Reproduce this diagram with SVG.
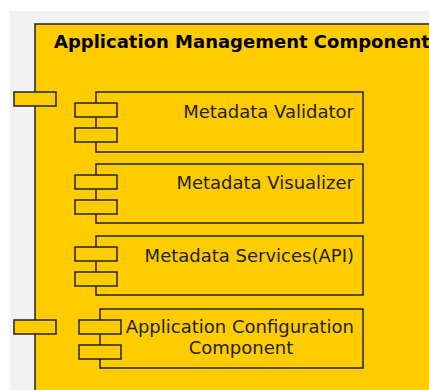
<svg xmlns="http://www.w3.org/2000/svg" width="429" height="390" viewBox="0 0 429 390">
  <style>
    .box { fill: #FFCC00; stroke: #222; stroke-width: 1.5; }
    .title { font-family: "DejaVu Sans", sans-serif; font-size: 18px; font-weight: bold; fill: #000; }
    .label { font-family: "DejaVu Sans", sans-serif; font-size: 18px; fill: #222; }
  </style>
  <rect x="0" y="0" width="429" height="390" fill="#fff"/>
  <rect x="10" y="11" width="419" height="379" fill="#f2f2f2"/>

  <!-- outer component -->
  <g id="app-management">
    <rect class="box" x="35" y="24" width="410" height="380"/>
    <text class="title" x="54" y="48">Application Management Component</text>
    <rect class="box" x="14" y="92" width="42" height="14"/>
    <rect class="box" x="14" y="320" width="42" height="14"/>
  </g>

  <g id="metadata-validator">
    <rect class="box" x="96" y="92" width="267" height="60"/>
    <rect class="box" x="75" y="103" width="42" height="14"/>
    <rect class="box" x="75" y="128" width="42" height="14"/>
    <text class="label" x="354" y="118" text-anchor="end">Metadata Validator</text>
  </g>

  <g id="metadata-visualizer">
    <rect class="box" x="96" y="164" width="267" height="59"/>
    <rect class="box" x="75" y="175" width="42" height="14"/>
    <rect class="box" x="75" y="200" width="42" height="14"/>
    <text class="label" x="354" y="189" text-anchor="end">Metadata Visualizer</text>
  </g>

  <g id="metadata-services">
    <rect class="box" x="96" y="236" width="267" height="59"/>
    <rect class="box" x="75" y="247" width="42" height="14"/>
    <rect class="box" x="75" y="272" width="42" height="14"/>
    <text class="label" x="354" y="262" text-anchor="end">Metadata Services(API)</text>
  </g>

  <g id="app-configuration">
    <rect class="box" x="100" y="309" width="263" height="59"/>
    <rect class="box" x="79" y="320" width="42" height="14"/>
    <rect class="box" x="79" y="345" width="42" height="14"/>
    <text class="label" x="354" y="333" text-anchor="end">Application Configuration</text>
    <text class="label" x="241" y="354" text-anchor="middle">Component</text>
  </g>

  <g id="connectors"/>
</svg>
